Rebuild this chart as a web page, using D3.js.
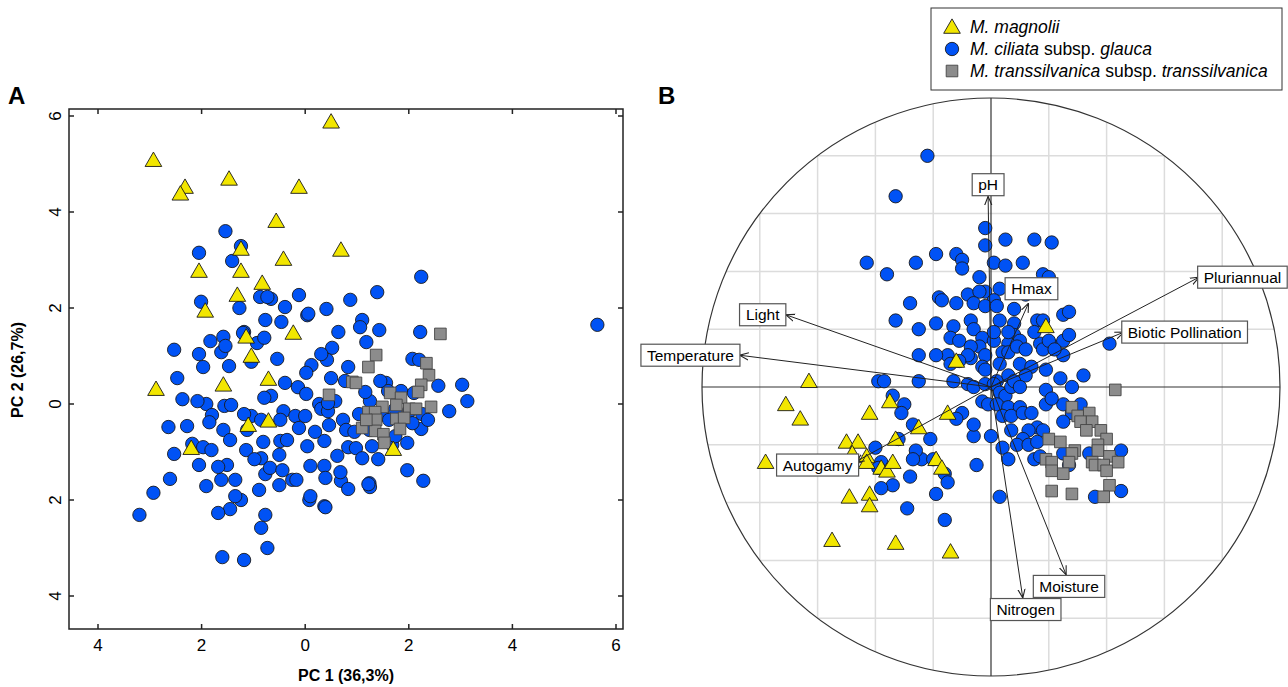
<!DOCTYPE html>
<html>
<head>
<meta charset="utf-8">
<title>PCA</title>
<script src="https://d3js.org/d3.v7.min.js"></script>
<style>
  body { margin: 0; background: #fff; }
  text { font-family: "Liberation Sans", Arial, sans-serif; }
</style>
</head>
<body>
<svg id="chart" width="1288" height="687"></svg>
<script>
// ---------- panel A data (PC1, PC2) ----------
const aMagnolii = [[0.50,5.88],[-2.93,5.08],[-2.32,4.52],[-2.41,4.38],[-1.47,4.69],[-0.12,4.52],[-0.56,3.81],
  [0.69,3.21],[-1.24,3.23],[-0.42,3.02],[-2.05,2.77],[-1.24,2.77],[-0.83,2.52],[-1.31,2.27],[-1.93,1.94],
  [-0.23,1.48],[-1.14,1.40],[-1.04,1.00],[-0.71,0.52],[-1.58,0.40],[-2.88,0.31],[-1.10,-0.44],[-0.71,-0.35],
  [-2.20,-0.92],[1.70,-0.94]];
const aGlauca = [[-1.54,3.60],[-1.24,3.29],[-2.05,3.15],[-1.41,2.98],[-2.01,2.13],[-0.87,2.23],[-0.66,2.19],
  [-0.39,2.02],[0.04,1.85],[0.41,1.98],[-0.77,1.75],[-0.46,1.71],[-1.18,1.50],[-0.93,1.27],[-1.83,1.31],
  [-2.53,1.13],[-2.05,1.04],[0.52,1.17],[-1.27,2.00],[-0.73,2.23],[-1.20,1.48],[-0.79,1.38],[-1.58,1.40],
  [-0.12,2.27],[0.06,1.88],[1.39,2.33],[2.24,2.65],[1.10,1.75],[1.43,1.54],[1.18,1.29],[0.12,0.81],[0.42,0.92],
  [0.64,1.50],[0.87,2.17],[1.06,1.60],[0.31,1.04],[2.07,0.94],[1.56,0.44],[0.77,0.48],[-1.04,0.88],[-1.47,0.79],
  [-1.97,0.77],[-1.62,1.08],[-2.47,0.54],[-2.37,0.10],[-1.91,0.00],[-1.56,-0.04],[-0.66,0.17],[-0.39,0.44],
  [-0.14,0.35],[-0.54,0.94],[0.02,0.65],[0.50,0.54],[0.83,0.77],[1.39,-0.27],[1.60,0.27],[1.85,0.27],
  [2.57,0.38],[3.03,0.40],[3.13,0.06],[2.10,0.23],[1.25,0.06],[1.04,-0.21],[0.58,0.06],[0.27,0.00],[0.02,0.21],
  [-0.42,-0.15],[-0.48,-0.77],[-1.04,-0.25],[-1.43,-0.02],[-2.08,0.06],[-1.80,-0.23],[-2.28,-0.46],[-2.18,-0.83],
  [-2.53,-1.04],[-2.61,-1.56],[-2.93,-1.85],[-3.20,-2.31],[-2.64,-0.48],[-1.85,-0.38],[-1.58,-0.54],[-1.12,-0.54],
  [-0.85,-0.33],[-0.81,-0.79],[-0.48,-0.33],[-0.19,-0.25],[0.31,-0.10],[0.46,-0.44],[0.73,-0.33],[0.79,-0.54],
  [0.95,-0.58],[1.24,-0.54],[1.49,-0.21],[1.74,-0.10],[2.01,-0.15],[2.26,-0.21],[0.83,-0.90],[0.62,-1.08],
  [0.37,-0.77],[0.04,-0.88],[-0.12,-0.50],[-0.35,-0.75],[0.10,-1.29],[-0.25,-1.58],[-0.77,-1.46],[-0.89,-1.79],
  [-1.24,-2.00],[-1.35,-1.58],[-1.51,-1.27],[-1.68,-1.31],[-1.62,-1.58],[-1.35,-1.92],[-1.45,-2.19],[-1.68,-2.27],
  [-1.91,-1.71],[-2.05,-1.27],[-1.97,-0.90],[-1.81,-0.96],[-1.45,-0.75],[-1.14,-0.96],[-0.85,-1.13],[-0.68,-1.33],
  [-0.50,-1.06],[-0.98,-1.15],[-0.77,-2.31],[-0.85,-2.58],[-1.18,-3.25],[0.08,-2.00],[0.37,-2.13],[0.69,-1.60],
  [1.24,-1.65],[1.41,-1.15],[0.44,-0.15],[0.37,-1.29],[0.98,-0.92],[1.10,-1.13],[1.62,-0.33],[1.68,-0.85],
  [1.25,-1.73],[1.97,-0.81],[2.28,-1.60],[0.39,-1.54],[-1.60,-3.19],[-0.73,-3.00],[-0.44,-1.38],[-0.17,-1.58],
  [-0.50,-1.69],[0.83,-1.77],[0.00,-0.25],[0.19,-0.58],[1.16,0.25],[-1.18,-0.21],[-0.79,0.13],[-1.54,1.21],
  [0.44,0.02],[5.64,1.65],[2.78,-0.15],[1.45,0.48],[2.20,0.92],[2.22,1.50],[1.97,-1.38],[1.22,-1.67],[0.68,-1.42],
  [0.10,-1.92],[0.39,-2.15],[2.24,-0.52],[2.37,-0.33],[2.07,-0.40],[1.74,-0.67],[1.29,-0.88]];
const aTranss = [[2.61,1.46],[1.37,1.02],[1.22,0.77],[0.91,0.46],[0.98,0.44],[2.34,0.85],[2.39,0.60],[2.24,0.40],
  [2.18,0.25],[0.46,0.19],[1.64,0.23],[1.85,0.13],[1.76,-0.02],[1.49,-0.06],[2.01,-0.10],[2.14,-0.10],[2.43,-0.06],
  [1.22,-0.17],[1.35,-0.17],[1.76,-0.31],[1.91,-0.29],[1.37,-0.33],[1.10,-0.50],[1.35,-0.56],[1.83,-0.52],
  [1.51,-0.63],[1.53,-0.81],[1.18,-0.33]];
const aXTicks = [-4, -2, 0, 2, 4, 6];
const aYTicks = [-4, -2, 0, 2, 4, 6];

// ---------- panel B data (unit circle) ----------
const bMagnolii = [[-0.63,0.02],[-0.12,0.09],[0.19,0.21],[-0.71,-0.06],[-0.66,-0.11],[-0.42,-0.09],[-0.35,-0.05],
  [-0.15,-0.09],[-0.25,-0.14],[-0.50,-0.19],[-0.46,-0.19],[-0.33,-0.18],[-0.48,-0.23],[-0.43,-0.24],[-0.43,-0.26],
  [-0.78,-0.26],[-0.38,-0.28],[-0.36,-0.29],[-0.34,-0.26],[-0.19,-0.25],[-0.17,-0.28],[-0.49,-0.38],[-0.42,-0.37],
  [-0.42,-0.41],[-0.55,-0.53],[-0.33,-0.54],[-0.14,-0.57]];
const bGlauca = [[-0.22,0.80],[-0.33,0.66],[-0.43,0.43],[-0.36,0.39],[-0.26,0.43],[-0.19,0.46],[-0.12,0.46],
  [-0.10,0.44],[-0.10,0.41],[-0.04,0.38],[-0.02,0.33],[-0.02,0.49],[-0.02,0.55],[0.01,0.43],[0.05,0.51],
  [0.15,0.51],[0.21,0.50],[0.11,0.43],[0.05,0.42],[0.18,0.39],[0.20,0.38],[0.03,0.34],[0.01,0.30],[-0.08,0.32],
  [-0.04,0.33],[-0.18,0.31],[-0.17,0.30],[-0.12,0.29],[-0.06,0.29],[-0.02,0.28],[0.02,0.28],[0.08,0.27],
  [0.12,0.32],[-0.28,0.29],[-0.33,0.23],[-0.25,0.20],[-0.19,0.22],[-0.13,0.21],[-0.15,0.11],[-0.07,0.23],
  [-0.06,0.20],[0.03,0.23],[0.08,0.22],[0.16,0.23],[0.18,0.23],[0.25,0.25],[0.27,0.26],[0.08,0.18],[0.10,0.16],
  [0.17,0.15],[0.15,0.19],[0.22,0.14],[0.25,0.16],[0.27,0.18],[0.25,0.11],[-0.03,0.17],[-0.04,0.14],[-0.02,0.11],
  [0.01,0.16],[0.06,0.15],[0.04,0.12],[0.06,0.12],[0.09,0.14],[0.12,0.13],[0.18,0.13],[0.20,0.16],[0.22,0.13],
  [0.06,0.19],[0.01,0.19],[-0.03,0.07],[-0.07,0.10],[-0.14,0.17],[-0.11,0.16],[-0.07,0.14],[-0.08,0.11],
  [-0.14,0.08],[-0.11,0.09],[-0.19,0.11],[-0.25,0.11],[-0.02,0.06],[0.03,0.08],[0.02,0.02],[0.06,0.04],
  [0.10,0.08],[0.14,0.07],[0.19,0.06],[0.24,0.03],[0.28,0.00],[0.32,0.04],[0.41,0.15],[0.12,0.04],[0.19,-0.01],
  [-0.39,0.02],[-0.37,0.02],[-0.25,0.02],[-0.13,0.02],[-0.08,0.01],[-0.06,0.00],[-0.02,0.01],[0.01,0.01],
  [0.03,-0.02],[0.05,-0.03],[0.07,0.00],[0.08,0.02],[0.10,0.00],[-0.03,-0.05],[-0.01,-0.06],[0.02,-0.06],
  [0.06,-0.07],[0.10,-0.07],[0.04,-0.10],[0.07,-0.10],[0.11,-0.09],[0.14,-0.09],[0.19,-0.06],[0.25,-0.06],
  [0.28,-0.09],[0.31,-0.06],[0.16,-0.14],[0.13,-0.15],[0.18,-0.15],[0.07,-0.15],[0.11,-0.18],[0.09,-0.20],
  [0.13,-0.20],[0.16,-0.19],[0.15,-0.25],[0.17,-0.24],[0.04,-0.21],[0.00,-0.17],[0.25,-0.23],[0.34,-0.23],
  [0.45,-0.22],[0.45,-0.36],[0.36,-0.38],[0.27,-0.27],[0.03,-0.38],[0.25,-0.12],[0.21,-0.04],[-0.34,-0.03],
  [-0.30,-0.06],[-0.31,-0.09],[-0.27,-0.13],[-0.21,-0.18],[-0.24,-0.25],[-0.26,-0.22],[-0.27,-0.25],[-0.20,-0.25],
  [-0.16,-0.30],[-0.15,-0.33],[-0.28,-0.31],[-0.34,-0.34],[-0.29,-0.42],[-0.16,-0.46],[-0.06,-0.17],[-0.06,-0.13],
  [-0.10,-0.09],[-0.12,-0.11],[0.06,-0.25],[-0.40,-0.21],[-0.38,-0.26],[-0.39,-0.28],[-0.38,-0.35],[-0.19,-0.37],
  [-0.05,-0.27],[-0.32,-0.18]];
const bTranss = [[0.43,-0.01],[0.28,-0.07],[0.30,-0.10],[0.34,-0.09],[0.31,-0.12],[0.35,-0.12],[0.33,-0.15],
  [0.38,-0.15],[0.40,-0.18],[0.20,-0.18],[0.24,-0.19],[0.37,-0.20],[0.37,-0.22],[0.29,-0.22],[0.28,-0.23],
  [0.41,-0.24],[0.44,-0.26],[0.19,-0.25],[0.21,-0.26],[0.27,-0.26],[0.35,-0.26],[0.36,-0.27],[0.39,-0.27],
  [0.21,-0.29],[0.25,-0.30],[0.40,-0.29],[0.41,-0.34],[0.21,-0.36],[0.28,-0.37],[0.39,-0.38]];
// variable vectors: name, arrow tip, label centre
const vecNames = ["pH","Hmax","Light","Temperature","Pluriannual","Biotic Pollination","Autogamy","Moisture","Nitrogen"];
const vecTips = [[-0.01,0.66],[0.13,0.29],[-0.71,0.25],[-0.87,0.11],[0.72,0.38],[0.46,0.19],[-0.47,-0.26],[0.26,-0.65],[0.11,-0.73]];
const vecLabels = [[-0.01,0.70],[0.14,0.34],[-0.79,0.25],[-1.04,0.11],[0.87,0.38],[0.67,0.19],[-0.60,-0.27],[0.27,-0.69],[0.12,-0.77]];
const gridTicks = [-0.8,-0.6,-0.4,-0.2,0.2,0.4,0.6,0.8];

const yellow = "#f2e600", blue = "#0052f5", gray = "#8c8c8c", edge = "#1a1a1a";
const svg = d3.select("#chart");

function drawMarks(g, data, kind, x, y) {
  const sym = kind === "tri" ? d3.symbolTriangle : (kind === "sq" ? d3.symbolSquare : d3.symbolCircle);
  const size = kind === "tri" ? 120 : (kind === "sq" ? 135 : 140);
  const fill = kind === "tri" ? yellow : (kind === "sq" ? gray : blue);
  g.selectAll(null).data(data).enter().append("path")
    .attr("d", d3.symbol().type(sym).size(size))
    .attr("transform", d => `translate(${x(d[0])},${y(d[1]) + (kind === "tri" ? 1.5 : 0)})`)
    .attr("fill", fill).attr("stroke", kind === "sq" ? "#444" : edge).attr("stroke-width", 0.9);
}

// ================= Panel A =================
const ax = d3.scaleLinear().domain([-4, 6]).range([98, 616]);
const ay = d3.scaleLinear().domain([0, 6]).range([404, 116]);
const A = { l: 69, r: 623, t: 109, b: 629 };
const gA = svg.append("g");
gA.append("rect").attr("x", A.l).attr("y", A.t).attr("width", A.r - A.l).attr("height", A.b - A.t)
  .attr("fill", "none").attr("stroke", "#222").attr("stroke-width", 1.5);
aXTicks.forEach(t => {
  gA.append("line").attr("x1", ax(t)).attr("x2", ax(t)).attr("y1", A.b).attr("y2", A.b - 5).attr("stroke", "#222").attr("stroke-width", 1.5);
  gA.append("line").attr("x1", ax(t)).attr("x2", ax(t)).attr("y1", A.t).attr("y2", A.t + 5).attr("stroke", "#222").attr("stroke-width", 1.5);
  gA.append("text").attr("x", ax(t)).attr("y", A.b + 22).attr("text-anchor", "middle")
    .attr("font-size", 17).text(Math.abs(t));
});
aYTicks.forEach(t => {
  gA.append("line").attr("x1", A.l).attr("x2", A.l + 5).attr("y1", ay(t)).attr("y2", ay(t)).attr("stroke", "#222").attr("stroke-width", 1.5);
  gA.append("line").attr("x1", A.r).attr("x2", A.r - 5).attr("y1", ay(t)).attr("y2", ay(t)).attr("stroke", "#222").attr("stroke-width", 1.5);
  gA.append("text").attr("transform", `translate(${A.l - 8},${ay(t)}) rotate(-90)`).attr("text-anchor", "middle")
    .attr("font-size", 17).text(Math.abs(t));
});
gA.append("text").attr("x", 346).attr("y", 681).attr("text-anchor", "middle").attr("font-size", 16)
  .attr("font-weight", "bold").text("PC 1 (36,3%)");
gA.append("text").attr("transform", "translate(23,370) rotate(-90)").attr("text-anchor", "middle").attr("font-size", 16)
  .attr("font-weight", "bold").text("PC 2 (26,7%)");
gA.append("text").attr("x", 8).attr("y", 104).attr("font-size", 24).attr("font-weight", "bold").text("A");
drawMarks(gA, aGlauca, "circ", ax, ay);
drawMarks(gA, aTranss, "sq", ax, ay);
drawMarks(gA, aMagnolii, "tri", ax, ay);

// ================= Panel B =================
const R = 289, cx = 991, cy = 387;
const bx = d3.scaleLinear().domain([-1, 1]).range([cx - R, cx + R]);
const by = d3.scaleLinear().domain([-1, 1]).range([cy + R, cy - R]);
const gB = svg.append("g");
svg.append("defs").append("clipPath").attr("id", "circ").append("circle").attr("cx", cx).attr("cy", cy).attr("r", R);
svg.select("defs").append("marker").attr("id", "arr").attr("viewBox", "0 0 10 10").attr("refX", 10).attr("refY", 5)
  .attr("markerWidth", 9).attr("markerHeight", 9).attr("orient", "auto-start-reverse")
  .append("path").attr("d", "M0,1 L10,5 L0,9").attr("fill", "none").attr("stroke", "#222").attr("stroke-width", 1.2);
const grid = gB.append("g").attr("clip-path", "url(#circ)");
gridTicks.forEach(t => {
  grid.append("line").attr("x1", bx(t)).attr("x2", bx(t)).attr("y1", cy - R).attr("y2", cy + R).attr("stroke", "#dcdcdc").attr("stroke-width", 1.5);
  grid.append("line").attr("y1", by(t)).attr("y2", by(t)).attr("x1", cx - R).attr("x2", cx + R).attr("stroke", "#dcdcdc").attr("stroke-width", 1.5);
});
gB.append("circle").attr("cx", cx).attr("cy", cy).attr("r", R).attr("fill", "none").attr("stroke", "#333").attr("stroke-width", 1.2);
gB.append("line").attr("x1", bx(-1)).attr("x2", bx(1)).attr("y1", by(0)).attr("y2", by(0)).attr("stroke", "#333").attr("stroke-width", 1.2);
gB.append("line").attr("x1", bx(0)).attr("x2", bx(0)).attr("y1", by(-1)).attr("y2", by(1)).attr("stroke", "#333").attr("stroke-width", 1.2);
gB.append("text").attr("x", 658).attr("y", 104).attr("font-size", 24).attr("font-weight", "bold").text("B");

drawMarks(gB, bGlauca, "circ", bx, by);
drawMarks(gB, bTranss, "sq", bx, by);
drawMarks(gB, bMagnolii, "tri", bx, by);

vecTips.forEach((p, i) => {
  gB.append("line").attr("x1", bx(0)).attr("y1", by(0)).attr("x2", bx(p[0])).attr("y2", by(p[1]))
    .attr("stroke", "#222").attr("stroke-width", 1).attr("marker-end", "url(#arr)");
});
vecLabels.forEach((p, i) => {
  const g = gB.append("g").attr("transform", `translate(${bx(p[0])},${by(p[1])})`);
  const t = g.append("text").attr("text-anchor", "middle").attr("y", 5.5).attr("font-size", 15.5).text(vecNames[i]);
  const w = t.node().getBBox().width + 12;
  g.insert("rect", "text").attr("x", -w / 2).attr("y", -11).attr("width", w).attr("height", 22)
    .attr("fill", "#fff").attr("stroke", "#555").attr("stroke-width", 1.2);
});

// ================= Legend =================
const legend = svg.append("g").attr("transform", "translate(931,8)");
legend.append("rect").attr("width", 351).attr("height", 82).attr("fill", "#fff").attr("stroke", "#333").attr("stroke-width", 1);
const legItems = [
  { kind: "tri", parts: [["M. magnolii", true]] },
  { kind: "circ", parts: [["M. ciliata", true], [" subsp. ", false], ["glauca", true]] },
  { kind: "sq", parts: [["M. transsilvanica", true], [" subsp. ", false], ["transsilvanica", true]] }
];
const lx = d3.scaleLinear().domain([0, 1]).range([0, 1]);
legItems.forEach((it, i) => {
  const yy = 19 + i * 22;
  drawMarks(legend, [[21, yy]], it.kind, lx, lx);
  const t = legend.append("text").attr("x", 39).attr("y", yy + 6).attr("font-size", 17.5);
  it.parts.forEach(p => t.append("tspan").attr("font-style", p[1] ? "italic" : "normal").text(p[0]));
});
</script>
</body>
</html>
